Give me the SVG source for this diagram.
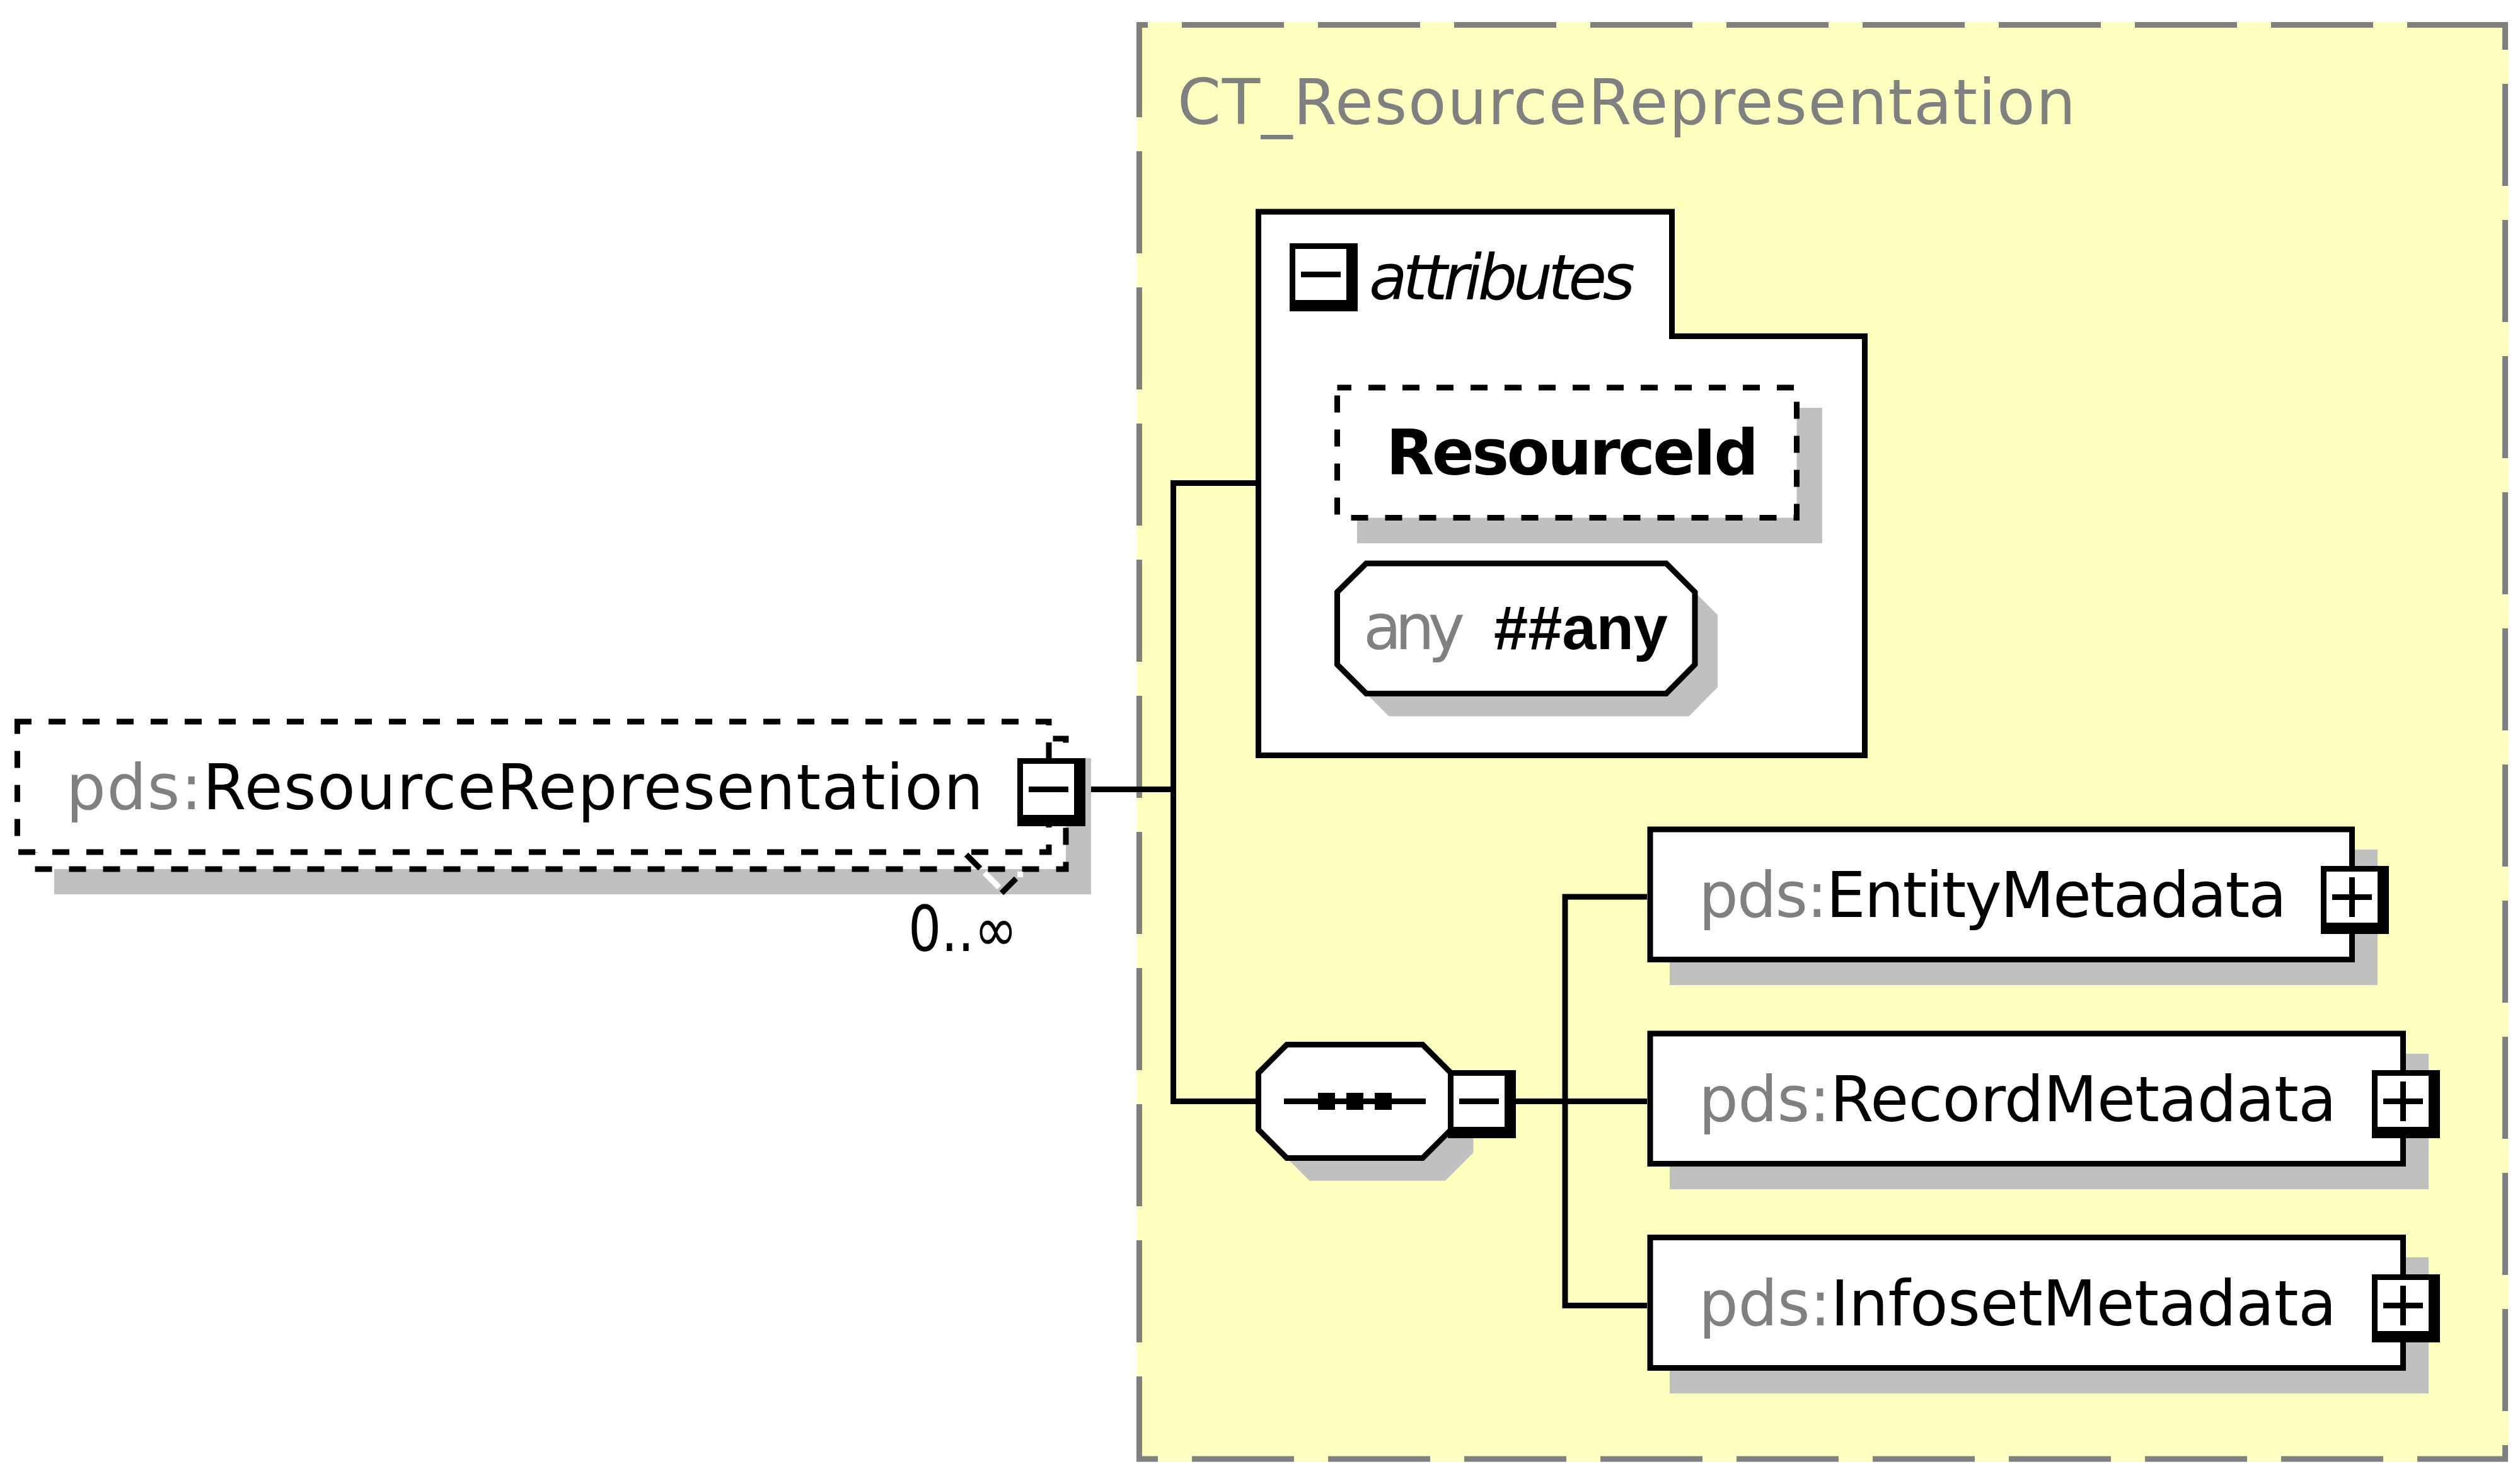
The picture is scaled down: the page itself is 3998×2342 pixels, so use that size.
<svg xmlns="http://www.w3.org/2000/svg" width="3998" height="2342" viewBox="0 0 3998 2342">
<style>
.ln{stroke:#000;stroke-width:9;fill:none}
.box{fill:#fff;stroke:#000;stroke-width:9}
.dash{fill:#fff;stroke:#000;stroke-width:9;stroke-dasharray:27 27}
.sh{fill:#c0c0c0}
.ctb{stroke:#808080;stroke-width:9;fill:none;stroke-dasharray:162 54}
.t{font-family:"DejaVu Sans","Liberation Sans",sans-serif;font-size:99px;fill:#000}
.n{font-family:"Liberation Sans","DejaVu Sans",sans-serif}
.g{fill:#808080}
.b{font-weight:bold}
.i{font-style:italic}
</style>
<defs>
<g id="minus"><rect width="108" height="108" fill="#000"/><rect x="9" y="9" width="81" height="81" fill="#fff"/><rect x="18" y="45" width="63" height="9" fill="#000"/></g>
<g id="plus"><rect width="108" height="108" fill="#000"/><rect x="9" y="9" width="81" height="81" fill="#fff"/><rect x="18" y="45" width="63" height="9" fill="#000"/><rect x="45" y="18" width="9" height="63" fill="#000"/></g>
<polygon id="seqoct" points="1996.5,1702.5 2041.5,1657.5 2257,1657.5 2301.5,1702 2301.5,1793 2257,1837.5 2041.5,1837.5 1996.5,1792.5"/>
<polygon id="anyoct" points="2121.5,939.5 2167.5,894 2643.5,894 2689,939.5 2689,1054.5 2643.5,1100.5 2167.5,1100.5 2121.5,1054.5"/>
</defs>
<rect width="3998" height="2342" fill="#fff"/>

<g id="ct_ResourceRepresentation">
<rect x="1803" y="35" width="2176" height="2284" fill="#ffffc0"/>
<line class="ctb" x1="1803" y1="39.5" x2="3979" y2="39.5" stroke-dashoffset="144"/>
<line class="ctb" x1="3974.5" y1="35" x2="3974.5" y2="2319" stroke-dashoffset="118"/>
<line class="ctb" x1="1803" y1="2315" x2="3979" y2="2315" stroke-dashoffset="128"/>
<line class="ctb" x1="1807.5" y1="35" x2="1807.5" y2="2319" stroke-dashoffset="11"/>
<text class="t g" x="1868" y="197" textLength="1425" lengthAdjust="spacing">CT_ResourceRepresentation</text>
</g>

<g id="connectors">
<path class="ln" d="M1731,1252.5 H1861.5"/>
<path class="ln" d="M1996.5,766.5 H1861.5 V1747.5 H1996.5"/>
<path class="ln" d="M2405,1747.5 H2613"/>
<path class="ln" d="M2613,1423 H2483 V2071.5 H2613"/>
</g>

<g id="element_ResourceRepresentation">
<rect class="sh" x="86" y="1203" width="1645" height="216"/>
<rect class="dash" x="55" y="1172" width="1636" height="207" stroke-dashoffset="4.5"/>
<rect class="dash" x="27.5" y="1145" width="1636.5" height="207" stroke-dashoffset="4.5"/>
<line x1="1533" y1="1356" x2="1555" y2="1378" stroke="#000" stroke-width="9"/>
<line x1="1562" y1="1385" x2="1585" y2="1408" stroke="#fff" stroke-width="9"/>
<line x1="1589" y1="1417" x2="1612" y2="1394" stroke="#000" stroke-width="9"/>
<rect x="1614" y="1383" width="9" height="9" fill="#fff"/>
<use href="#minus" x="1614" y="1203"/>
<text class="t" x="105" y="1284" textLength="1455" lengthAdjust="spacing"><tspan class="g">pds:</tspan>ResourceRepresentation</text>
<text class="t" x="1441" y="1509" textLength="173" lengthAdjust="spacingAndGlyphs">0..∞</text>
</g>

<g id="attributes">
<path class="box" d="M1996.5,336 H2652.5 V533.5 H2958.5 V1198.5 H1996.5 Z"/>
<use href="#minus" x="2046" y="386"/>
<text class="t i" x="2172" y="475" textLength="422" lengthAdjust="spacing">attributes</text>
</g>

<g id="attr_ResourceId">
<rect class="sh" x="2153" y="647" width="738" height="215"/>
<rect class="dash" x="2121.5" y="615" width="729" height="206.5" stroke-dashoffset="4.5"/>
<text class="t b" x="2199" y="753" textLength="591" lengthAdjust="spacing">ResourceId</text>
</g>

<g id="attr_any">
<use href="#anyoct" class="sh" transform="translate(36,36)"/>
<use href="#anyoct" class="box"/>
<text class="t g" x="2163" y="1030" textLength="161" lengthAdjust="spacing">any</text>
<text class="t n b" x="2370" y="1030" textLength="276" lengthAdjust="spacingAndGlyphs">##any</text>
</g>

<g id="sequence">
<use href="#seqoct" class="sh" transform="translate(36,36)"/>
<use href="#seqoct" class="box"/>
<rect x="2037" y="1743" width="225" height="9" fill="#000"/>
<rect x="2091" y="1734" width="27" height="27" fill="#000"/>
<rect x="2136" y="1734" width="27" height="27" fill="#000"/>
<rect x="2181" y="1734" width="27" height="27" fill="#000"/>
<use href="#minus" x="2297" y="1698"/>
</g>

<g id="element_EntityMetadata">
<rect class="sh" x="2649" y="1348" width="1123" height="215"/>
<rect class="box" x="2618" y="1316" width="1113.5" height="206.5"/>
<use href="#plus" x="3682" y="1374"/>
<text class="t" x="2695" y="1455" textLength="933" lengthAdjust="spacing"><tspan class="g">pds:</tspan>EntityMetadata</text>
</g>

<g id="element_RecordMetadata">
<rect class="sh" x="2649" y="1672" width="1204" height="215"/>
<rect class="box" x="2618" y="1640" width="1194.5" height="206.5"/>
<use href="#plus" x="3763" y="1698"/>
<text class="t" x="2695" y="1779" textLength="1012" lengthAdjust="spacing"><tspan class="g">pds:</tspan>RecordMetadata</text>
</g>

<g id="element_InfosetMetadata">
<rect class="sh" x="2649" y="1995" width="1204" height="216"/>
<rect class="box" x="2618" y="1963.5" width="1194.5" height="207"/>
<use href="#plus" x="3763" y="2022"/>
<text class="t" x="2695" y="2103" textLength="1012" lengthAdjust="spacing"><tspan class="g">pds:</tspan>InfosetMetadata</text>
</g>
</svg>
